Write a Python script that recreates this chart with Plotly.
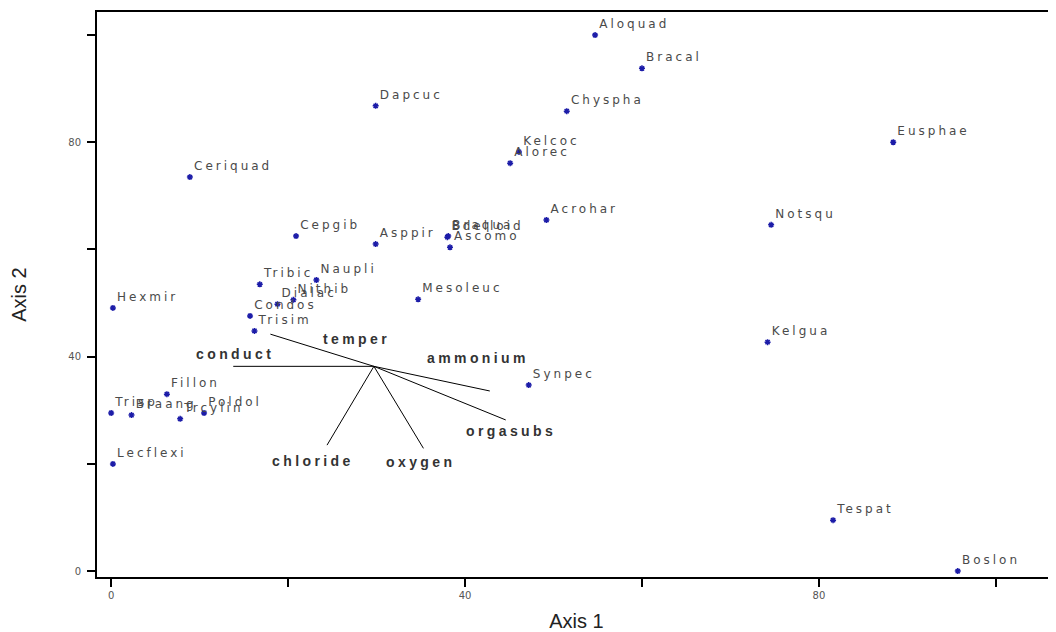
import plotly.graph_objects as go

# Species scores
species = ["Aloquad", "Bracal", "Dapcuc", "Chyspha", "Eusphae", "Kelcoc", "Alorec",
           "Ceriquad", "Acrohar", "Notsqu", "Cepgib", "Asppir", "Bdelloid", "Braqua",
           "Ascomo", "Tribic", "Naupli", "Dialac", "Nithib", "Condos", "Trisim",
           "Hexmir", "Mesoleuc", "Kelgua", "Synpec", "Fillon", "Trisp", "Braang",
           "Trcylin", "Poldol", "Lecflexi", "Tespat", "Boslon"]
axis1 = [54.7, 60.0, 29.9, 51.5, 88.4, 46.1, 45.1,
         8.9, 49.2, 74.6, 20.9, 29.9, 38.0, 38.1,
         38.3, 16.8, 23.2, 18.8, 20.6, 15.7, 16.2,
         0.2, 34.7, 74.2, 47.2, 6.3, 0.0, 2.3,
         7.8, 10.5, 0.2, 81.6, 95.7]
axis2 = [100.0, 93.8, 86.8, 85.8, 80.0, 78.2, 76.1,
         73.5, 65.5, 64.6, 62.5, 61.0, 62.3, 62.5,
         60.4, 53.5, 54.3, 49.8, 50.6, 47.6, 44.8,
         49.1, 50.7, 42.7, 34.7, 33.0, 29.5, 29.1,
         28.4, 29.5, 20.0, 9.5, 0.0]

# Environmental vectors
env_vars = ["conduct", "temper", "ammonium", "orgasubs", "chloride", "oxygen"]
env_x = [13.8, 18.0, 42.8, 44.6, 24.4, 35.3]
env_y = [38.2, 44.2, 33.6, 28.2, 23.5, 22.9]
env_label_x = [14.0, 27.7, 41.5, 45.2, 22.8, 35.0]
env_label_y = [40.5, 43.3, 39.7, 26.1, 20.5, 20.3]
origin_x, origin_y = 29.7, 38.2

tick_vals = [0, 20, 40, 60, 80, 100]
tick_text = ["0", "", "40", "", "80", ""]

fig = go.Figure()

# vector lines
vx, vy = [], []
for ex, ey in zip(env_x, env_y):
    vx += [origin_x, ex, None]
    vy += [origin_y, ey, None]
fig.add_trace(go.Scatter(x=vx, y=vy, mode="lines",
                         line=dict(color="black", width=1), hoverinfo="skip",
                         showlegend=False))

# species points
fig.add_trace(go.Scatter(
    x=axis1, y=axis2, mode="markers+text",
    text=['<span style="letter-spacing:3px">%s</span>' % s for s in species],
    textposition="top right",
    textfont=dict(family="DejaVu Sans", size=12, color="#4a4a4a"),
    marker=dict(symbol="asterisk-open", size=5, color="#1c1ca8",
                line=dict(color="#1c1ca8", width=1.5)),
    showlegend=False))

for name, lx, ly in zip(env_vars, env_label_x, env_label_y):
    fig.add_annotation(x=lx, y=ly, text='<span style="letter-spacing:3.4px"><b>%s</b></span>' % name,
                       showarrow=False, xanchor="center", yanchor="middle",
                       font=dict(family="Liberation Sans, Arial", size=14, color="#333333"))

fig.update_layout(
    width=1048, height=624,
    margin=dict(l=89, r=0, t=4, b=55),
    paper_bgcolor="white", plot_bgcolor="white",
    xaxis=dict(range=[-1.6, 106.8], showgrid=False, zeroline=False,
               showline=True, linecolor="black", linewidth=2, mirror=True,
               ticks="outside", ticklen=8, tickwidth=2, tickcolor="black",
               tickvals=tick_vals, ticktext=tick_text, automargin=False,
               tickfont=dict(family="DejaVu Sans", size=10, color="#555555"),
               title=dict(text="Axis 1", standoff=15,
                          font=dict(family="Liberation Sans Narrow, Liberation Sans, Arial", size=20, color="#222222"))),
    yaxis=dict(range=[-1.1, 104.3], showgrid=False, zeroline=False,
               showline=True, linecolor="black", linewidth=2, mirror=False,
               ticks="outside", ticklen=8, tickwidth=2, tickcolor="black",
               tickvals=tick_vals, ticktext=tick_text, automargin=False,
               ticklabelstandoff=4,
               tickfont=dict(family="DejaVu Sans", size=10, color="#555555"),
               title=dict(text="Axis 2", standoff=37,
                          font=dict(family="Liberation Sans Narrow, Liberation Sans, Arial", size=20, color="#222222"))),
)

fig.write_html("out.html")
